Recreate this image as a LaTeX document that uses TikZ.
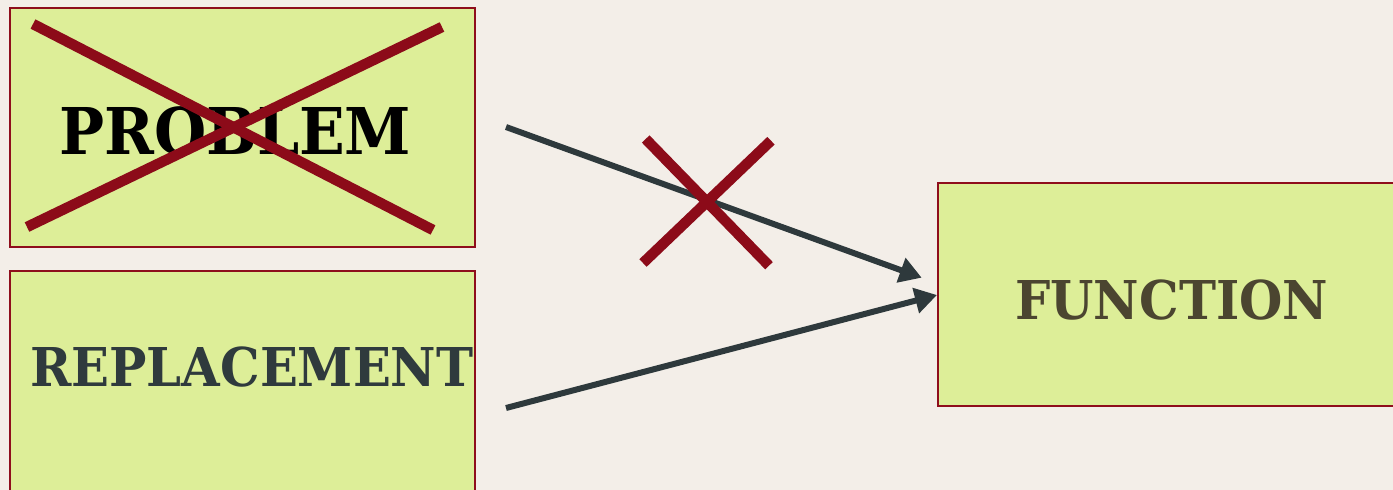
\documentclass[tikz,border=0pt]{standalone}
\usepackage{fontspec}
\usepackage{graphicx}
\setmainfont{DejaVu Serif}
\usetikzlibrary{arrows.meta}
\definecolor{bg}{HTML}{F3EEE8}
\definecolor{boxfill}{HTML}{DDEE98}
\definecolor{boxline}{HTML}{8E0E1C}
\definecolor{crossred}{HTML}{8C0B19}
\definecolor{arrowgray}{HTML}{2E393C}
\definecolor{slate}{HTML}{2F3A3D}
\definecolor{olive}{HTML}{4B4530}
\newcommand{\narrow}[1]{\scalebox{0.93}[1]{#1}}
\begin{document}
\begin{tikzpicture}[x=1pt,y=-1pt,
  card/.style={draw=boxline, line width=2pt, fill=boxfill, inner sep=0pt, anchor=north west},
  flow/.style={draw=arrowgray, line width=6pt, -{Triangle[length=22pt,width=25pt]}},
  strike/.style={draw=crossred, line width=10.5pt},
  boxtext/.style={inner sep=0pt, anchor=base west}]
  % canvas
  \useasboundingbox (0,0) rectangle (1393,490);
  \fill[bg] (0,0) rectangle (1393,490);
  \clip (0,0) rectangle (1393,490);

  % boxes
  \node[card, minimum width=465pt, minimum height=239pt] (problem) at (9,7) {};
  \node[card, minimum width=465pt, minimum height=240pt] (replacement) at (9,270) {};
  \node[card, minimum width=470pt, minimum height=223pt] (function) at (937,182) {};

  % box texts
  \node[boxtext, text=black, font=\bfseries\fontsize{64.5}{70}\selectfont] (problem-text) at (59,154) {\narrow{PROBLEM}};
  \node[boxtext, text=slate, font=\bfseries\fontsize{53.5}{60}\selectfont] (replacement-text) at (30,386) {\narrow{REPLACEMENT}};
  \node[boxtext, text=olive, font=\bfseries\fontsize{53.5}{60}\selectfont] (function-text) at (1015,319) {\narrow{FUNCTION}};

  % struck-out problem
  \draw[strike] (33,24) -- (433,230);
  \draw[strike] (442,27) -- (27,227);

  % connectors
  \coordinate (p-out) at (506,127);
  \coordinate (p-in) at (921.7,277.7);
  \coordinate (r-out) at (506,408);
  \coordinate (r-in) at (937,295);
  \draw[flow] (p-out) -- (p-in);
  \draw[flow] (r-out) -- (r-in);

  % blocked path
  \draw[strike] (645.7,139) -- (769,265.7);
  \draw[strike] (771,140.7) -- (643,263);
\end{tikzpicture}
\end{document}
